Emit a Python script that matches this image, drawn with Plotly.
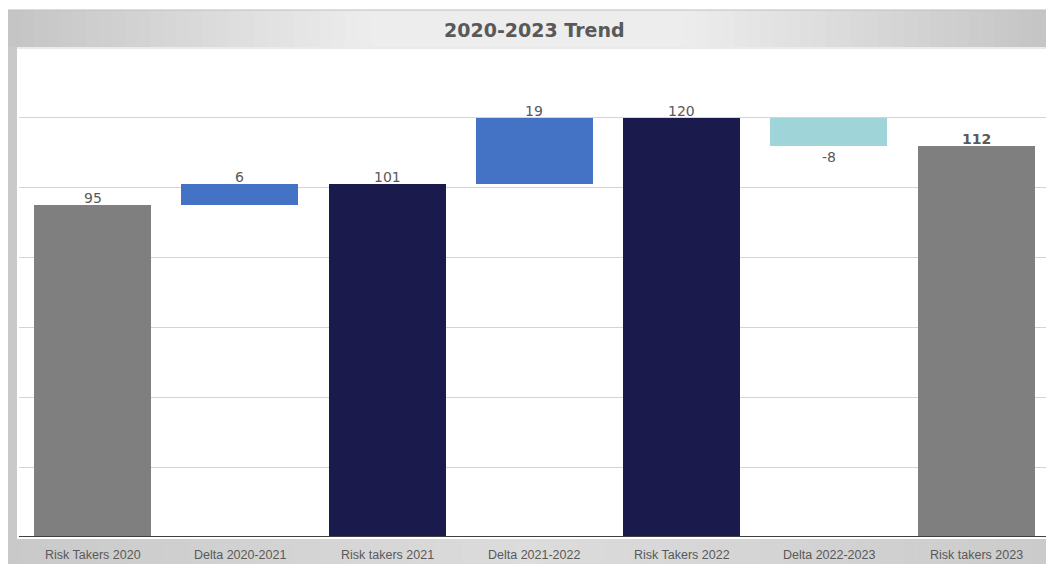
import plotly.graph_objects as go

# Waterfall data: yearly totals and the year-over-year deltas between them
categories = ["Risk Takers 2020", "Delta 2020-2021", "Risk takers 2021",
              "Delta 2021-2022", "Risk Takers 2022", "Delta 2022-2023",
              "Risk takers 2023"]
totals = [95, 101, 120, 112]
deltas = [6, 19, -8]
total_colors = ["#7f7f7f", "#1b1a4d", "#1b1a4d", "#7f7f7f"]
delta_up_color = "#4472c4"
delta_down_color = "#9fd4d8"

W, H = 1046, 564
L, R, T, B = 19, 0, 48, 27
PW, PH = W - L - R, H - T - B


def px_x(px):
    return (px - L) / PW


def px_y(py):
    return (H - B - py) / PH


# Build the bar list: total, delta, total, delta, ...
ys, bases, colors, labels = [], [], [], []
for i, tot in enumerate(totals):
    ys.append(tot)
    bases.append(0)
    colors.append(total_colors[i])
    labels.append(str(tot))
    if i < len(deltas):
        d = deltas[i]
        ys.append(d)
        bases.append(tot)
        colors.append(delta_up_color if d >= 0 else delta_down_color)
        labels.append(str(d))

xs = list(range(len(categories)))

fig = go.Figure()
fig.add_trace(go.Bar(
    x=xs, y=ys, base=bases, width=0.795,
    marker=dict(color=colors, line=dict(width=0)),
    hoverinfo="skip", showlegend=False,
))

annotations = []
for i, (y, b, lab) in enumerate(zip(ys, bases, labels)):
    top = b + y
    neg = y < 0
    annotations.append(dict(
        x=i, y=top, xref="x", yref="y",
        text=("<b>%s</b>" % lab) if i == len(ys) - 1 else lab,
        showarrow=False,
        yanchor="top" if neg else "bottom",
        yshift=-1 if neg else -3,
        font=dict(family="DejaVu Sans", size=14, color="#595959"),
    ))

# Category labels in the band under the axis
for i, c in enumerate(categories):
    annotations.append(dict(
        x=i, y=px_y(554.5), xref="x", yref="paper", text=c, showarrow=False,
        yanchor="middle",
        font=dict(family="Liberation Sans, Arial", size=12.5, color="#595959"),
    ))

# Chart title
annotations.append(dict(
    x=px_x(534), y=px_y(30), xref="paper", yref="paper",
    text="<b>2020-2023 Trend</b>", showarrow=False, yanchor="middle",
    font=dict(family="DejaVu Sans", size=19, color="#595959"),
))


def hexmix(c1, c2, t):
    a = [int(c1[k:k + 2], 16) for k in (1, 3, 5)]
    b = [int(c2[k:k + 2], 16) for k in (1, 3, 5)]
    return "#" + "".join("%02x" % round(a[j] + (b[j] - a[j]) * t) for j in range(3))


def grad_color(stops, t):
    for (t0, c0), (t1, c1) in zip(stops, stops[1:]):
        if t0 <= t <= t1:
            return hexmix(c0, c1, (t - t0) / (t1 - t0) if t1 > t0 else 0)
    return stops[-1][1]


shapes = []


def band(x0, x1, y0, y1, stops, n=80):
    step = (x1 - x0) / n
    for k in range(n):
        t = (k + 0.5) / n
        shapes.append(dict(
            type="rect", xref="paper", yref="paper", layer="below",
            x0=px_x(x0 + k * step), x1=px_x(x0 + (k + 1) * step + 0.6),
            y0=px_y(y1), y1=px_y(y0),
            fillcolor=grad_color(stops, t), line=dict(width=0),
        ))


title_stops = [(0, "#c4c4c4"), (0.35, "#ededed"), (0.65, "#ededed"), (1, "#c4c4c4")]
band(8, W, 10, 47, title_stops)
bottom_stops = [(0, "#c9c9c9"), (0.5, "#dcdcdc"), (1, "#cbcbcb")]
band(8, W, 539, H, bottom_stops)
# Left frame strip
shapes.append(dict(type="rect", xref="paper", yref="paper", layer="below",
                   x0=px_x(8), x1=px_x(17), y0=px_y(H), y1=px_y(47),
                   fillcolor="#c9c9c9", line=dict(width=0)))
# Top frame line
shapes.append(dict(type="line", xref="paper", yref="paper",
                   x0=px_x(8), x1=1, y0=px_y(10), y1=px_y(10),
                   line=dict(color="#bdbdbd", width=1)))
# Separator under the title band
shapes.append(dict(type="line", xref="paper", yref="paper",
                   x0=px_x(17), x1=1, y0=1, y1=1,
                   line=dict(color="#e3e3e3", width=1.5)))
# Baseline
shapes.append(dict(type="line", xref="paper", yref="y",
                   x0=0, x1=1, y0=0, y1=0, layer="above",
                   line=dict(color="#404040", width=2.2)))

fig.update_layout(
    width=W, height=H,
    margin=dict(l=L, r=R, t=T, b=B, pad=0),
    paper_bgcolor="white", plot_bgcolor="white",
    bargap=0,
    xaxis=dict(range=[-0.5, 6.475], showticklabels=False, showgrid=False,
               zeroline=False, showline=False, ticks=""),
    yaxis=dict(range=[0, 140], tickvals=[20, 40, 60, 80, 100, 120],
               showticklabels=False, showgrid=True, gridcolor="#d4d4d4",
               gridwidth=1.2, zeroline=False, showline=False, ticks=""),
    annotations=annotations,
    shapes=shapes,
)

fig.write_html("out.html")
